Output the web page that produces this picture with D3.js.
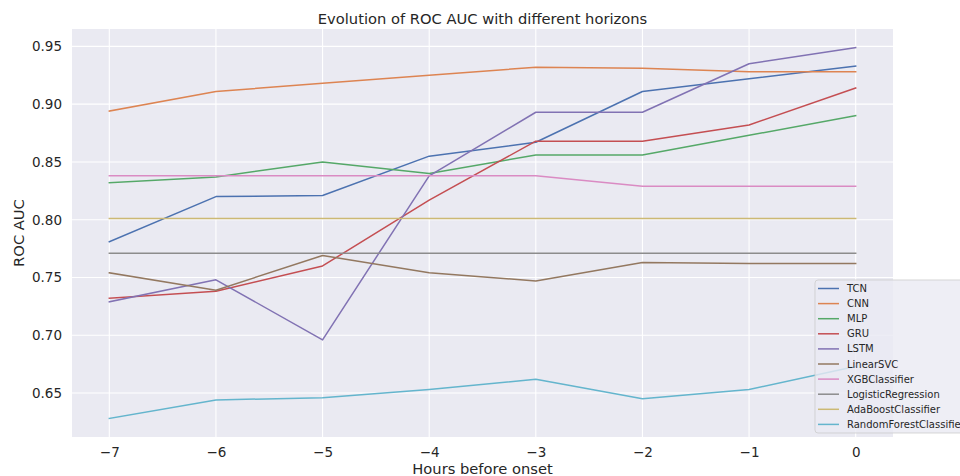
<!DOCTYPE html>
<html>
<head>
<meta charset="utf-8">
<script src="https://cdn.jsdelivr.net/npm/d3@7"></script>
<style>
  body { margin: 0; background: #fff; }
  text { font-family: "DejaVu Sans", sans-serif; fill: #262626; }
</style>
</head>
<body>
<svg id="chart" width="960" height="476"></svg>
<script>
// hours before onset
const hours = [-7, -6, -5, -4, -3, -2, -1, 0];

// ROC AUC per model
const tcn = [0.781, 0.820, 0.821, 0.855, 0.867, 0.911, 0.922, 0.933];
const cnn = [0.894, 0.911, 0.918, 0.925, 0.932, 0.931, 0.928, 0.928];
const mlp = [0.832, 0.837, 0.850, 0.840, 0.856, 0.856, 0.873, 0.890];
const gru = [0.732, 0.738, 0.760, 0.817, 0.868, 0.868, 0.882, 0.914];
const lstm = [0.729, 0.748, 0.696, 0.838, 0.893, 0.893, 0.935, 0.949];
const linearSvc = [0.754, 0.739, 0.769, 0.754, 0.747, 0.763, 0.762, 0.762];
const xgb = [0.838, 0.838, 0.838, 0.838, 0.838, 0.829, 0.829, 0.829];
const logReg = [0.771, 0.771, 0.771, 0.771, 0.771, 0.771, 0.771, 0.771];
const adaBoost = [0.801, 0.801, 0.801, 0.801, 0.801, 0.801, 0.801, 0.801];
const randomForest = [0.628, 0.644, 0.646, 0.653, 0.662, 0.645, 0.653, 0.673];

const modelNames = ["TCN", "CNN", "MLP", "GRU", "LSTM", "LinearSVC", "XGBClassifier",
  "LogisticRegression", "AdaBoostClassifier", "RandomForestClassifier"];
const modelValues = [tcn, cnn, mlp, gru, lstm, linearSvc, xgb, logReg, adaBoost, randomForest];
const yTicks = [0.65, 0.70, 0.75, 0.80, 0.85, 0.90, 0.95];

// seaborn "deep" palette
const colors = ["#4c72b0", "#dd8452", "#55a868", "#c44e52", "#8172b3",
  "#937860", "#da8bc3", "#8c8c8c", "#ccb974", "#64b5cd"];

const plot = {left: 72, top: 29, right: 893, bottom: 437};

const svg = d3.select("#chart");

// domains with matplotlib style 5% margins
const xExt = d3.extent(hours);
const xPad = (xExt[1] - xExt[0]) * 0.05;
const allVals = modelValues.flat();
const yExt = d3.extent(allVals);
const yPad = (yExt[1] - yExt[0]) * 0.05;

const x = d3.scaleLinear()
  .domain([xExt[0] - xPad, xExt[1] + xPad])
  .range([plot.left, plot.right]);
const y = d3.scaleLinear()
  .domain([yExt[0] - yPad, yExt[1] + yPad])
  .range([plot.bottom, plot.top]);

// axes background
svg.append("rect")
  .attr("x", plot.left).attr("y", plot.top)
  .attr("width", plot.right - plot.left)
  .attr("height", plot.bottom - plot.top)
  .attr("fill", "#eaeaf2");

// grid
svg.append("g")
  .selectAll("line")
  .data(hours)
  .join("line")
  .attr("x1", d => x(d)).attr("x2", d => x(d))
  .attr("y1", plot.top).attr("y2", plot.bottom)
  .attr("stroke", "#fff").attr("stroke-width", 1.1);
svg.append("g")
  .selectAll("line")
  .data(yTicks)
  .join("line")
  .attr("x1", plot.left).attr("x2", plot.right)
  .attr("y1", d => y(d)).attr("y2", d => y(d))
  .attr("stroke", "#fff").attr("stroke-width", 1.1);

// axes (labels only, no tick marks)
const xAxis = svg.append("g")
  .attr("transform", `translate(0,${plot.bottom})`)
  .call(d3.axisBottom(x).tickValues(hours).tickSize(0).tickPadding(10).tickFormat(d3.format("d")));
const yAxis = svg.append("g")
  .attr("transform", `translate(${plot.left},0)`)
  .call(d3.axisLeft(y).tickValues(yTicks).tickSize(0).tickPadding(10).tickFormat(d3.format(".2f")));
[xAxis, yAxis].forEach(a => {
  a.select(".domain").remove();
  a.selectAll("text").attr("font-size", 13.5).attr("font-family", "DejaVu Sans").attr("fill", "#262626");
});

// lines
const line = d3.line()
  .x((d, i) => x(hours[i]))
  .y(d => y(d));

svg.append("g")
  .selectAll("path")
  .data(modelValues)
  .join("path")
  .attr("d", d => line(d))
  .attr("fill", "none")
  .attr("stroke", (d, i) => colors[i])
  .attr("stroke-width", 1.5)
  .attr("stroke-linejoin", "round")
  .attr("stroke-linecap", "square");

// titles
svg.append("text")
  .attr("x", (plot.left + plot.right) / 2).attr("y", 24)
  .attr("text-anchor", "middle")
  .attr("font-size", 14.7)
  .text("Evolution of ROC AUC with different horizons");
svg.append("text")
  .attr("x", (plot.left + plot.right) / 2).attr("y", 474)
  .attr("text-anchor", "middle")
  .attr("font-size", 14.7)
  .text("Hours before onset");
svg.append("text")
  .attr("transform", `translate(24,${(plot.top + plot.bottom) / 2}) rotate(-90)`)
  .attr("text-anchor", "middle")
  .attr("font-size", 14.7)
  .text("ROC AUC");

// legend
const legend = svg.append("g").attr("transform", "translate(815,280)");
legend.append("rect")
  .attr("width", 170).attr("height", 153)
  .attr("rx", 3)
  .attr("fill", "#eaeaf2").attr("fill-opacity", 0.8)
  .attr("stroke", "#cccccc").attr("stroke-opacity", 0.8);
const rows = legend.selectAll("g.row")
  .data(modelNames)
  .join("g")
  .attr("class", "row")
  .attr("transform", (d, i) => `translate(0,${8.5 + i * 15.1})`);
rows.append("line")
  .attr("x1", 3).attr("x2", 24)
  .attr("stroke", (d, i) => colors[i])
  .attr("stroke-width", 1.5);
rows.append("text")
  .attr("x", 32).attr("dy", "0.35em")
  .attr("font-size", 10)
  .text(d => d);
</script>
</body>
</html>
